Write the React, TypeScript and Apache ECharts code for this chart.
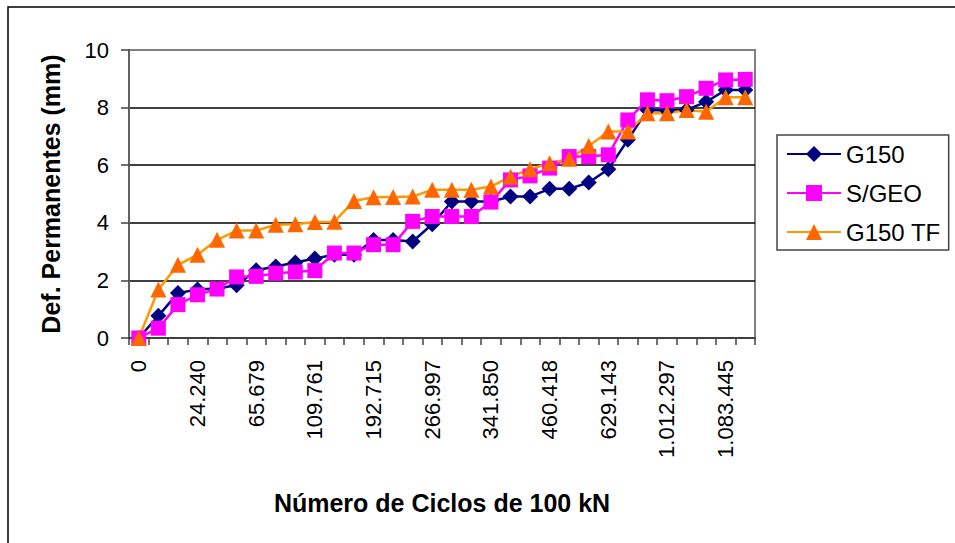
import React, { useEffect, useRef } from "react";
import * as echarts from "echarts";

const categories: string[] = [
  "0", "", "", "24.240", "", "", "65.679", "", "", "109.761", "", "",
  "192.715", "", "", "266.997", "", "", "341.850", "", "", "460.418", "", "",
  "629.143", "", "", "1.012.297", "", "", "1.083.445", "",
];

const g150: number[] = [
  0, 0.77, 1.56, 1.68, 1.72, 1.83, 2.35, 2.48, 2.62, 2.76, 2.89, 2.89,
  3.4, 3.4, 3.35, 3.95, 4.74, 4.74, 4.74, 4.91, 4.91, 5.18, 5.18, 5.4,
  5.86, 6.88, 7.92, 7.9, 7.92, 8.2, 8.61, 8.61,
];

const sGeo: number[] = [
  0, 0.34, 1.16, 1.5, 1.7, 2.12, 2.14, 2.25, 2.29, 2.34, 2.95, 2.95,
  3.24, 3.24, 4.05, 4.22, 4.22, 4.22, 4.72, 5.49, 5.63, 5.9, 6.3, 6.3,
  6.36, 7.57, 8.27, 8.24, 8.38, 8.67, 8.96, 8.98,
];

const g150Tf: number[] = [
  0, 1.68, 2.54, 2.89, 3.41, 3.73, 3.73, 3.93, 3.95, 4.03, 4.04, 4.76,
  4.89, 4.9, 4.91, 5.15, 5.15, 5.15, 5.26, 5.6, 5.86, 6.07, 6.22, 6.67,
  7.17, 7.17, 7.8, 7.8, 7.92, 7.86, 8.36, 8.36,
];

const FONT = "'Liberation Sans', Arial, sans-serif";

export default function App() {
  const ref = useRef<HTMLDivElement>(null);

  useEffect(() => {
    if (!ref.current) return;
    const chart = echarts.init(ref.current, undefined, { renderer: "svg" });
    chart.setOption({
      animation: false,
      backgroundColor: "#ffffff",
      textStyle: { fontFamily: FONT },
      graphic: [
        {
          type: "rect",
          shape: { x: 8, y: 7, width: 1200, height: 800 },
          style: { fill: "none", stroke: "#000", lineWidth: 1.5 },
          silent: true,
        },
      ],
      grid: {
        left: 129,
        right: 200,
        top: 50,
        bottom: 205,
        show: true,
        borderColor: "#808080",
        borderWidth: 2,
        backgroundColor: "transparent",
      },
      legend: {
        left: 777,
        top: 135,
        orient: "vertical",
        backgroundColor: "#fff",
        borderColor: "#444",
        borderWidth: 1.5,
        borderRadius: 0,
        padding: [7, 8, 6, 9],
        itemWidth: 54,
        itemHeight: 20,
        itemGap: 15,
        textStyle: { fontFamily: FONT, fontSize: 24, color: "#000", lineHeight: 24 },
        data: ["G150", "S/GEO", "G150 TF"],
      },
      xAxis: {
        type: "category",
        data: categories,
        boundaryGap: true,
        name: "Número de Ciclos de 100 kN",
        nameLocation: "middle",
        nameGap: 152,
        nameTextStyle: { fontFamily: FONT, fontSize: 25, fontWeight: "bold", color: "#000" },
        axisLine: { show: true, lineStyle: { color: "#404040", width: 2 } },
        axisTick: { show: true, interval: 0, length: 7, lineStyle: { color: "#404040", width: 1.5 } },
        axisLabel: {
          interval: 2,
          rotate: 90,
          margin: 22,
          fontFamily: FONT,
          fontSize: 22,
          color: "#000",
        },
        splitLine: { show: false },
      },
      yAxis: {
        type: "value",
        min: 0,
        max: 10,
        interval: 2,
        name: "Def. Permanentes (mm)",
        nameLocation: "middle",
        nameGap: 66,
        nameTextStyle: { fontFamily: FONT, fontSize: 25, fontWeight: "bold", color: "#000" },
        axisLine: { show: true, lineStyle: { color: "#606060", width: 2 } },
        axisTick: { show: true, length: 8, lineStyle: { color: "#404040", width: 1.5 } },
        axisLabel: { margin: 20, fontFamily: FONT, fontSize: 22, color: "#000" },
        splitLine: {
          show: true,
          lineStyle: {
            color: ["#404040", "#000", "#000", "#000", "#000", "#808080"],
            width: 1.5,
          },
        },
      },
      series: [
        {
          name: "G150",
          type: "line",
          data: g150,
          symbol: "diamond",
          symbolSize: 16,
          showSymbol: true,
          showAllSymbol: true,
          lineStyle: { color: "#000080", width: 2.5 },
          itemStyle: { color: "#000080" },
        },
        {
          name: "S/GEO",
          type: "line",
          data: sGeo,
          symbol: "rect",
          symbolSize: 15,
          showSymbol: true,
          showAllSymbol: true,
          lineStyle: { color: "#FF00FF", width: 2.5 },
          itemStyle: { color: "#FF00FF" },
        },
        {
          name: "G150 TF",
          type: "line",
          data: g150Tf,
          symbol: "triangle",
          symbolSize: 16,
          showSymbol: true,
          showAllSymbol: true,
          lineStyle: { color: "#FF9900", width: 2.5 },
          itemStyle: { color: "#FF6600" },
        },
      ],
    });
    return () => chart.dispose();
  }, []);

  return (
    <div
      ref={ref}
      style={{ position: "absolute", left: 0, top: 0, width: 955, height: 543 }}
    />
  );
}
